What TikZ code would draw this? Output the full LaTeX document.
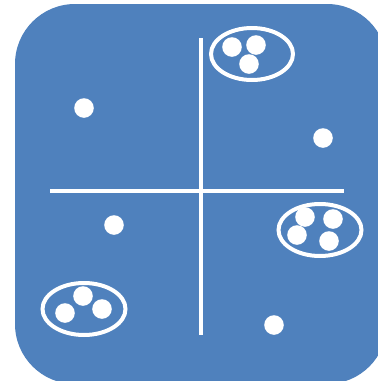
\documentclass[tikz,border=0pt]{standalone}
\definecolor{panelblue}{RGB}{79,129,189}
\begin{document}
\begin{tikzpicture}[x=1pt,y=-1pt,
  dot/.style={fill=white},
  ring/.style={draw=white,line width=4pt},
  axis/.style={draw=white,line width=3.5pt}]
\useasboundingbox (0,0) rectangle (378,381);
\fill[white] (0,0) rectangle (378,381);
\begin{scope}
\clip (0,0) rectangle (378,381);
\fill[panelblue,rounded corners=60pt] (15,4) rectangle (387,384);
\end{scope}
% axes
\draw[axis] (201,38) -- (201,335);
\draw[axis] (50,191) -- (344,191);
% single dots
\fill[dot] (84,108) circle (9.8);
\fill[dot] (323,138) circle (9.8);
\fill[dot] (114,225) circle (9.8);
\fill[dot] (274,325) circle (9.8);
% top cluster
\draw[ring] (252,54) ellipse (41 and 26);
\fill[dot] (232,47) circle (9.8);
\fill[dot] (256,45) circle (9.8);
\fill[dot] (249,64) circle (9.8);
% right cluster
\draw[ring] (320,230) ellipse (41.5 and 26);
\fill[dot] (305,217) circle (9.8);
\fill[dot] (333,219) circle (9.8);
\fill[dot] (297,235) circle (9.8);
\fill[dot] (329,241) circle (9.8);
% bottom-left cluster
\draw[ring] (84,309) ellipse (41.5 and 26);
\fill[dot] (83,296) circle (9.8);
\fill[dot] (65,313) circle (9.8);
\fill[dot] (102,309) circle (9.8);
\end{tikzpicture}
\end{document}
